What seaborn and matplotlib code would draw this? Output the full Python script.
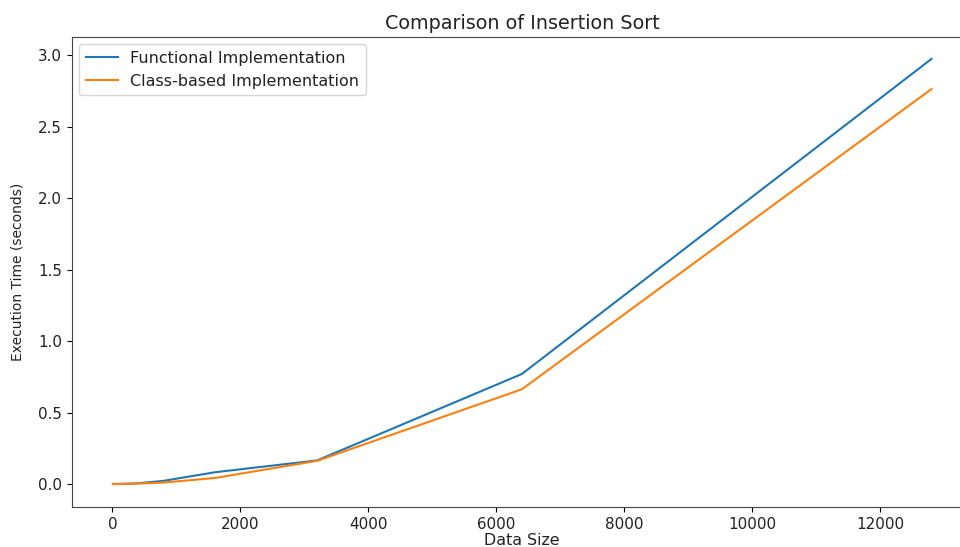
import matplotlib
matplotlib.use("Agg")
import matplotlib.pyplot as plt
import seaborn as sns
import pandas as pd

data_sizes = [10, 100, 200, 400, 800, 1600, 3200, 6400, 12800]
functional_times = [0.0, 0.0003, 0.0012, 0.005, 0.022, 0.082, 0.165, 0.770, 2.975]
class_times = [0.0, 0.0002, 0.0008, 0.003, 0.010, 0.042, 0.162, 0.663, 2.764]
series_names = ["Functional Implementation", "Class-based Implementation"]

df = pd.DataFrame({
    "Data Size": data_sizes * 2,
    "Execution Time (seconds)": functional_times + class_times,
    "Implementation": [series_names[0]] * len(data_sizes) + [series_names[1]] * len(data_sizes),
})

plt.rcParams["font.size"] = 10.5
plt.rcParams["text.color"] = "#222222"
plt.rcParams["axes.labelcolor"] = "#222222"
plt.rcParams["xtick.labelcolor"] = "#222222"
plt.rcParams["ytick.labelcolor"] = "#222222"

fig = plt.figure(figsize=(9.6, 5.47), dpi=100)
ax = fig.add_axes([0.075, 0.0726, 0.938, 0.8592])
sns.lineplot(data=df, x="Data Size", y="Execution Time (seconds)",
             hue="Implementation", palette=["#1f77b4", "#ff7f0e"], ax=ax, linewidth=1.5)
ax.set_xlim(-630, 13440)
ax.set_ylim(-0.163, 3.126)
ax.tick_params(labelsize=10.9)
ax.set_title("Comparison of Insertion Sort", fontsize=13.8, pad=6)
ax.set_xlabel("Data Size", fontsize=11.4, labelpad=1)
ax.set_ylabel("Execution Time (seconds)", fontsize=10, labelpad=10)
for s in ax.spines.values():
    s.set_color("#444444")
ax.spines["right"].set_visible(False)
ax.legend(loc="upper left", title=None, fontsize=11.5, borderaxespad=0.45)
fig.savefig("out.png", dpi=100)
